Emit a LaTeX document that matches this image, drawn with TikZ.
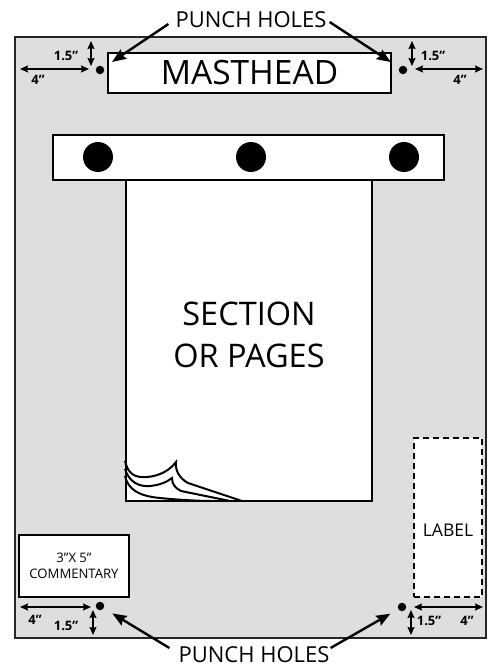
\documentclass[tikz,border=0pt]{standalone}
\usepackage{fontspec}
\setmainfont{Open Sans}
\usetikzlibrary{arrows.meta,calc}
\definecolor{pagegray}{RGB}{222,222,222}
\begin{document}
\begin{tikzpicture}[x=1pt,y=-1pt,
  frame/.style={draw=black, fill=white, line width=2.4pt, inner sep=0pt},
  hole/.style={circle, fill=black, inner sep=0pt, minimum size=#1},
  ptr/.style={-{Stealth[length=14pt,width=11pt,inset=2pt]}, line width=2.4pt},
  dim/.style={{Stealth[length=8pt,width=7pt,inset=1pt]}-{Stealth[length=8pt,width=7pt,inset=1pt]}, line width=1.5pt},
  dimtxt/.style={inner sep=0pt, font=\fontsize{13}{13}\selectfont\bfseries},
  big/.style={inner sep=0pt, align=center, font=\fontsize{32.5}{42}\selectfont},
  punch/.style={inner sep=0pt, font=\fontsize{22}{22}\selectfont}]
\useasboundingbox (0,0) rectangle (491,669);
% page
\node[draw=black!85, fill=pagegray, line width=1.4pt, minimum width=471pt, minimum height=601pt, inner sep=0pt] (page) at (250.5,337.5) {};
% masthead
\node[frame, minimum width=283pt, minimum height=40pt, font=\fontsize{33.5}{33.5}\selectfont] (mast) at (249.5,73) {MASTHEAD};
% section
\node[frame, minimum width=246pt, minimum height=321pt] (sect) at (249,340.5) {};
\node[big] (secttxt) at (249,335) {SECTION\\OR PAGES};
% curl
\begin{scope}[line width=2pt, line join=miter]
\draw (125,461) .. controls (128,474) and (135,478) .. (147,477) .. controls (160,476) and (170,470) .. (176,462)
      .. controls (175,470) and (179,478) .. (188,483) -- (242,501);
\draw (125,469) .. controls (129,482) and (139,487) .. (150,486) .. controls (160,485) and (167,482) .. (172,478)
      .. controls (172,484) and (175,488) .. (181,491) -- (230,501);
\draw (125,476) .. controls (128,489) and (138,496) .. (160,498) .. controls (180,500) and (200,501) .. (212,501);
\end{scope}
% bar
\node[frame, minimum width=391pt, minimum height=45pt] (bar) at (248.5,157.5) {};
\node[hole=30pt] (b1) at (98,157) {};
\node[hole=30pt] (b2) at (251,157) {};
\node[hole=30pt] (b3) at (404,157) {};
% label
\node[draw=black, fill=white, line width=1.8pt, dash pattern=on 6pt off 4pt, minimum width=68pt, minimum height=159pt, inner sep=0pt] (label) at (448,517.5) {};
\node[inner sep=0pt, font=\fontsize{17.5}{17.5}\selectfont] (labeltxt) at (448,530) {LABEL};
% commentary
\node[frame, line width=2.8pt, minimum width=110pt, minimum height=62pt, align=center, font=\fontsize{13.1}{16}\selectfont] (comm) at (74,566) {3”X 5”\\COMMENTARY};
% small punch holes
\node[hole=8.5pt] (h1) at (100,70) {};
\node[hole=8.5pt] (h2) at (403,70) {};
\node[hole=8.5pt] (h3) at (100,606) {};
\node[hole=8.5pt] (h4) at (402,607) {};
% punch labels
\node[punch] (ptop) at (251,20) {PUNCH HOLES};
\node[punch] (pbot) at (254,655) {PUNCH HOLES};
\draw[ptr, shorten >=10pt] ($(ptop.west)+(-7,4)$) -- (h1);
\draw[ptr, shorten >=10pt] ($(ptop.east)+(3,2)$) -- (h2);
\draw[ptr, shorten >=10pt] ($(pbot.west)+(-9,-7)$) -- (h3);
\draw[ptr, shorten >=9pt] ($(pbot.east)+(1,-7)$) -- (h4);
% dimension marks: top left
\coordinate (a1) at (20,69); \coordinate (a2) at (89,69);
\coordinate (a3) at (91,41); \coordinate (a4) at (91,66);
\draw[dim] (a1) -- (a2); \draw[dim] (a3) -- (a4);
\node[dimtxt] (t1) at (66,56) {1.5”};
\node[dimtxt] (t2) at (38,80) {4”};
% top right
\coordinate (b1a) at (415,69); \coordinate (b1b) at (483,69);
\coordinate (b1c) at (412,41); \coordinate (b1d) at (412,66);
\draw[dim] (b1a) -- (b1b); \draw[dim] (b1c) -- (b1d);
\node[dimtxt] (t3) at (433,56) {1.5”};
\node[dimtxt] (t4) at (460,80) {4”};
% bottom left
\coordinate (c1) at (20,607); \coordinate (c2) at (91,607);
\coordinate (c3) at (93,610); \coordinate (c4) at (93,635);
\draw[dim] (c1) -- (c2); \draw[dim] (c3) -- (c4);
\node[dimtxt] (t5) at (35,620) {4”};
\node[dimtxt] (t6) at (66,626) {1.5”};
% bottom right
\coordinate (d1) at (414,607); \coordinate (d2) at (483,607);
\coordinate (d3) at (411,610); \coordinate (d4) at (411,635);
\draw[dim] (d1) -- (d2); \draw[dim] (d3) -- (d4);
\node[dimtxt] (t7) at (429,621) {1.5”};
\node[dimtxt] (t8) at (467,621) {4”};
\end{tikzpicture}
\end{document}
